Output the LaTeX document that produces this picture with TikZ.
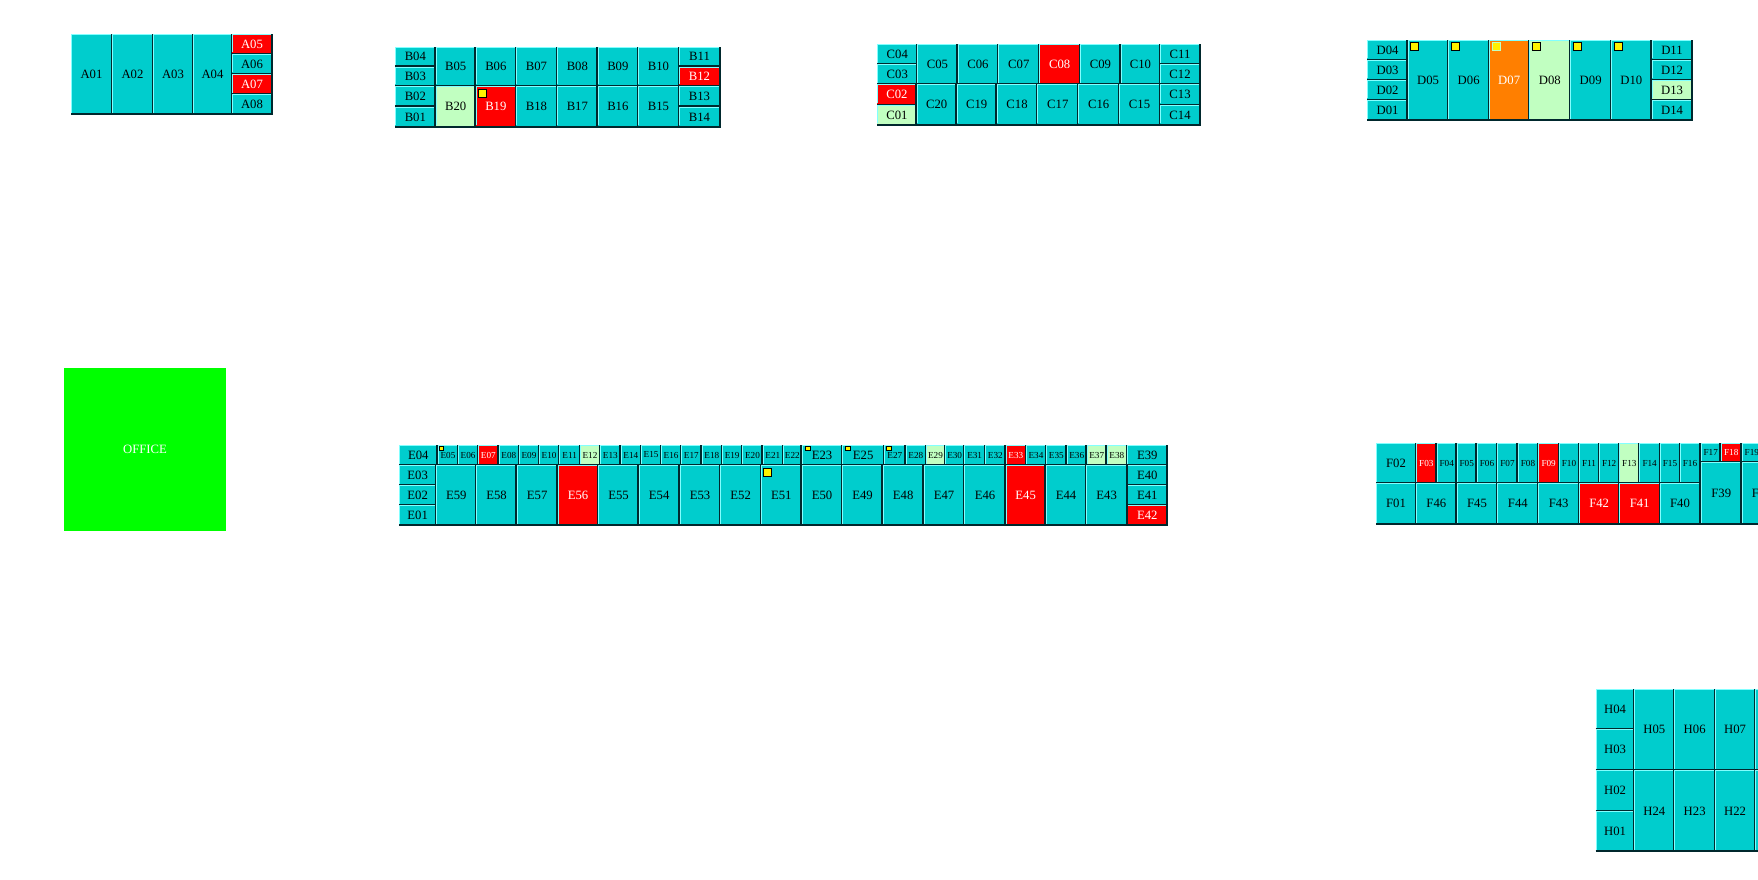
\documentclass[tikz,border=0pt]{standalone}
\usepackage{fontspec}
\setmainfont{Liberation Serif}
\definecolor{cellcyan}{RGB}{0,205,205}
\definecolor{paleg}{RGB}{193,255,193}
\definecolor{orng}{RGB}{255,127,0}
\definecolor{edgelight}{RGB}{130,255,255}
\definecolor{edgedark}{RGB}{0,40,45}
\tikzset{
  cellbox/.style={rectangle,draw=none,inner sep=0pt,outer sep=0pt,font=\fontsize{12.7}{14}\selectfont},
  cy/.style={fill=cellcyan,text=black},
  rd/.style={fill=red,text=white},
  gn/.style={fill=paleg,text=black},
  og/.style={fill=orng,text=white},
  sm/.style={font=\fontsize{9.2}{10}\selectfont},
  hi/.style={draw=edgelight,line width=1pt},
  lo/.style={draw=edgedark,line width=2pt},
  ymark/.style={rectangle,fill=yellow,draw=black,line width=0.9pt,inner sep=0pt,outer sep=0pt,minimum size=#1},
  office/.style={rectangle,fill=green,text=white,inner sep=0pt,font=\fontsize{12.7}{14}\selectfont}
}
% \cell{name}{label}{x0}{x1}{y0}{y1}{style}
\newcommand{\cell}[7]{%
  \pgfmathsetmacro{\cw}{#4-#3}\pgfmathsetmacro{\ch}{#6-#5}%
  \pgfmathsetmacro{\cx}{(#3+#4)/2}\pgfmathsetmacro{\cyy}{(#5+#6)/2}%
  \node[cellbox,#7,minimum width=\cw pt,minimum height=\ch pt] (#1) at (\cx pt,-\cyy pt) {#2};
  \draw[hi] ([xshift=.5pt,yshift=1.5pt]#1.south west) |- ([xshift=-1.5pt,yshift=-.5pt]#1.north east);
  \draw[lo] ([yshift=.3pt]#1.south west) -| ([xshift=-.3pt]#1.north east);
}
\newcommand{\ymk}[4][]{\node[ymark=#4,#1] (y#2) at (#3) {};}
\begin{document}
\begin{tikzpicture}[x=1pt,y=1pt]
\clip (0,0) rectangle (1758,-880);
\useasboundingbox (0,0) rectangle (1758,-880);
\fill[white] (0,0) rectangle (1758,-880);
% A
\cell{A01}{A01}{71}{112}{34}{114.7}{cy}
\cell{A02}{A02}{112}{153}{34}{114.7}{cy}
\cell{A03}{A03}{153}{193}{34}{114.7}{cy}
\cell{A04}{A04}{193}{232}{34}{114.7}{cy}
\cell{A05}{A05}{232}{272}{34}{54}{rd}
\cell{A06}{A06}{232}{272}{54}{74}{cy}
\cell{A07}{A07}{232}{272}{74}{94.5}{rd}
\cell{A08}{A08}{232}{272}{94.5}{114.7}{cy}
% B
\cell{B04}{B04}{395}{435.7}{46.7}{66.7}{cy}
\cell{B03}{B03}{395}{435.7}{66.7}{86}{cy}
\cell{B02}{B02}{395}{435.7}{86}{106.7}{cy}
\cell{B01}{B01}{395}{435.7}{106.7}{127}{cy}
\cell{B05}{B05}{435.7}{475.7}{46.7}{86}{cy}
\cell{B06}{B06}{475.7}{516}{46.7}{86}{cy}
\cell{B07}{B07}{516}{557}{46.7}{86}{cy}
\cell{B08}{B08}{557}{597.7}{46.7}{86}{cy}
\cell{B09}{B09}{597.7}{638}{46.7}{86}{cy}
\cell{B10}{B10}{638}{679}{46.7}{86}{cy}
\cell{B20}{B20}{435.7}{475.7}{86}{127}{gn}
\cell{B19}{B19}{475.7}{516}{86}{127}{rd}
\cell{B18}{B18}{516}{557}{86}{127}{cy}
\cell{B17}{B17}{557}{597.7}{86}{127}{cy}
\cell{B16}{B16}{597.7}{638}{86}{127}{cy}
\cell{B15}{B15}{638}{679}{86}{127}{cy}
\cell{B11}{B11}{679}{720}{46.7}{66.7}{cy}
\cell{B12}{B12}{679}{720}{66.7}{86}{rd}
\cell{B13}{B13}{679}{720}{86}{106.7}{cy}
\cell{B14}{B14}{679}{720}{106.7}{127}{cy}
\ymk{B19}{482.5pt,-93.5pt}{8pt}
% C
\cell{C04}{C04}{877.3}{917.3}{44.3}{64.3}{cy}
\cell{C03}{C03}{877.3}{917.3}{64.3}{84.3}{cy}
\cell{C02}{C02}{877.3}{916.7}{84.3}{105}{rd}
\cell{C01}{C01}{877.3}{916.7}{105}{125}{gn}
\cell{C05}{C05}{917.3}{957.7}{44.3}{84.3}{cy}
\cell{C06}{C06}{957.7}{998.3}{44.3}{84.3}{cy}
\cell{C07}{C07}{998.3}{1039.3}{44.3}{84.3}{cy}
\cell{C08}{C08}{1039.3}{1080}{44.3}{84.3}{rd}
\cell{C09}{C09}{1080}{1120.7}{44.3}{84.3}{cy}
\cell{C10}{C10}{1120.7}{1160}{44.3}{84.3}{cy}
\cell{C20}{C20}{916.7}{956.7}{84.3}{125}{cy}
\cell{C19}{C19}{956.7}{996.7}{84.3}{125}{cy}
\cell{C18}{C18}{996.7}{1037.3}{84.3}{125}{cy}
\cell{C17}{C17}{1037.3}{1078.3}{84.3}{125}{cy}
\cell{C16}{C16}{1078.3}{1119}{84.3}{125}{cy}
\cell{C15}{C15}{1119}{1160}{84.3}{125}{cy}
\cell{C11}{C11}{1160}{1200}{44.3}{64.3}{cy}
\cell{C12}{C12}{1160}{1200}{64.3}{84.3}{cy}
\cell{C13}{C13}{1160}{1200}{84.3}{105}{cy}
\cell{C14}{C14}{1160}{1200}{105}{125}{cy}
% D
\cell{D04}{D04}{1367.3}{1407.7}{40}{60}{cy}
\cell{D03}{D03}{1367.3}{1407.7}{60}{80}{cy}
\cell{D02}{D02}{1367.3}{1407.7}{80}{100}{cy}
\cell{D01}{D01}{1367.3}{1407.7}{100}{120.7}{cy}
\cell{D05}{D05}{1407.7}{1448.3}{40}{120.7}{cy}
\cell{D06}{D06}{1448.3}{1489}{40}{120.7}{cy}
\cell{D07}{D07}{1489}{1529.3}{40}{120.7}{og}
\cell{D08}{D08}{1529.3}{1570.3}{40}{120.7}{gn}
\cell{D09}{D09}{1570.3}{1611}{40}{120.7}{cy}
\cell{D10}{D10}{1611}{1651.7}{40}{120.7}{cy}
\cell{D11}{D11}{1651.7}{1692.3}{40}{60}{cy}
\cell{D12}{D12}{1651.7}{1692.3}{60}{80}{cy}
\cell{D13}{D13}{1651.7}{1692.3}{80}{100}{gn}
\cell{D14}{D14}{1651.7}{1692.3}{100}{120.7}{cy}
\ymk{D05}{1414.5pt,-46.5pt}{8pt}
\ymk{D06}{1455pt,-46.5pt}{8pt}
\ymk[draw=paleg]{D07}{1496.5pt,-46.5pt}{8pt}
\ymk{D08}{1536.5pt,-46.5pt}{8pt}
\ymk{D09}{1577.5pt,-46.5pt}{8pt}
\ymk{D10}{1618.5pt,-46.5pt}{8pt}
% Office
\node[office,minimum width=162pt,minimum height=163pt] (office) at (145pt,-449.5pt) {OFFICE};
% E
\cell{E04}{E04}{399}{437.7}{445}{465}{cy}
\cell{E03}{E03}{399}{436.3}{465}{485}{cy}
\cell{E02}{E02}{399}{436.3}{485}{505}{cy}
\cell{E01}{E01}{399}{436.3}{505}{525}{cy}
\cell{E05}{E05}{437.7}{458.3}{445}{465}{cy,sm}
\cell{E06}{E06}{458.3}{478}{445}{465}{cy,sm}
\cell{E07}{E07}{478}{498.7}{445}{465}{rd,sm}
\cell{E08}{E08}{498.7}{519}{445}{465}{cy,sm}
\cell{E09}{E09}{519}{539}{445}{465}{cy,sm}
\cell{E10}{E10}{539}{559.3}{445}{465}{cy,sm}
\cell{E11}{E11}{559.3}{580}{445}{465}{cy,sm}
\cell{E12}{E12}{580}{600}{445}{465}{gn,sm}
\cell{E13}{E13}{600}{620.7}{445}{465}{cy,sm}
\cell{E14}{E14}{620.7}{641}{445}{465}{cy,sm}
\cell{E15}{E15}{641}{661.3}{445}{465}{cy,sm}
\cell{E16}{E16}{661.3}{681}{445}{465}{cy,sm}
\cell{E17}{E17}{681}{701.7}{445}{465}{cy,sm}
\cell{E18}{E18}{701.7}{722}{445}{465}{cy,sm}
\cell{E19}{E19}{722}{742.3}{445}{465}{cy,sm}
\cell{E20}{E20}{742.3}{762.7}{445}{465}{cy,sm}
\cell{E21}{E21}{762.7}{783}{445}{465}{cy,sm}
\cell{E22}{E22}{783}{801.7}{445}{465}{cy,sm}
\cell{E23}{E23}{801.7}{842.3}{445}{465}{cy}
\cell{E25}{E25}{842.3}{884}{445}{465}{cy}
\cell{E27}{E27}{884}{905.7}{445}{465}{cy,sm}
\cell{E28}{E28}{905.7}{926}{445}{465}{cy,sm}
\cell{E29}{E29}{926}{945}{445}{465}{gn,sm}
\cell{E30}{E30}{945}{964.3}{445}{465}{cy,sm}
\cell{E31}{E31}{964.3}{985}{445}{465}{cy,sm}
\cell{E32}{E32}{985}{1005.7}{445}{465}{cy,sm}
\cell{E33}{E33}{1005.7}{1026}{445}{465}{rd,sm}
\cell{E34}{E34}{1026}{1046}{445}{465}{cy,sm}
\cell{E35}{E35}{1046}{1066.7}{445}{465}{cy,sm}
\cell{E36}{E36}{1066.7}{1086.7}{445}{465}{cy,sm}
\cell{E37}{E37}{1086.7}{1106.7}{445}{465}{gn,sm}
\cell{E38}{E38}{1106.7}{1127}{445}{465}{gn,sm}
\cell{E39}{E39}{1127}{1167.7}{445}{465}{cy}
\cell{E40}{E40}{1127}{1167.7}{465}{485}{cy}
\cell{E41}{E41}{1127}{1167.7}{485}{505}{cy}
\cell{E42}{E42}{1127}{1167.7}{505}{525}{rd}
\cell{E59}{E59}{436.3}{476.3}{465}{525}{cy}
\cell{E58}{E58}{476.3}{516.7}{465}{525}{cy}
\cell{E57}{E57}{516.7}{557.7}{465}{525}{cy}
\cell{E56}{E56}{557.7}{598.3}{465}{525}{rd}
\cell{E55}{E55}{598.3}{638.7}{465}{525}{cy}
\cell{E54}{E54}{638.7}{679.7}{465}{525}{cy}
\cell{E53}{E53}{679.7}{720.3}{465}{525}{cy}
\cell{E52}{E52}{720.3}{761}{465}{525}{cy}
\cell{E51}{E51}{761}{801.7}{465}{525}{cy}
\cell{E50}{E50}{801.7}{842.3}{465}{525}{cy}
\cell{E49}{E49}{842.3}{882.7}{465}{525}{cy}
\cell{E48}{E48}{882.7}{923.7}{465}{525}{cy}
\cell{E47}{E47}{923.7}{964.3}{465}{525}{cy}
\cell{E46}{E46}{964.3}{1005.7}{465}{525}{cy}
\cell{E45}{E45}{1005.7}{1045.7}{465}{525}{rd}
\cell{E44}{E44}{1045.7}{1086.3}{465}{525}{cy}
\cell{E43}{E43}{1086.3}{1127}{465}{525}{cy}
\ymk{E05}{441.5pt,-448.3pt}{4.5pt}
\ymk{E23}{808pt,-448.5pt}{4.5pt}
\ymk{E25}{847.8pt,-448.5pt}{4.5pt}
\ymk{E27}{888.7pt,-448.5pt}{4.5pt}
\ymk{E51}{767.5pt,-472.5pt}{8pt}
% F
\cell{F02}{F02}{1376}{1416}{443.3}{483.3}{cy}
\cell{F03}{F03}{1416}{1436.7}{443.3}{483.3}{rd,sm}
\cell{F04}{F04}{1436.7}{1456.7}{443.3}{483.3}{cy,sm}
\cell{F05}{F05}{1456.7}{1476.7}{443.3}{483.3}{cy,sm}
\cell{F06}{F06}{1476.7}{1497.3}{443.3}{483.3}{cy,sm}
\cell{F07}{F07}{1497.3}{1517.7}{443.3}{483.3}{cy,sm}
\cell{F08}{F08}{1517.7}{1538.3}{443.3}{483.3}{cy,sm}
\cell{F09}{F09}{1538.3}{1559}{443.3}{483.3}{rd,sm}
\cell{F10}{F10}{1559}{1579}{443.3}{483.3}{cy,sm}
\cell{F11}{F11}{1579}{1599}{443.3}{483.3}{cy,sm}
\cell{F12}{F12}{1599}{1619.3}{443.3}{483.3}{cy,sm}
\cell{F13}{F13}{1619.3}{1639.3}{443.3}{483.3}{gn,sm}
\cell{F14}{F14}{1639.3}{1660}{443.3}{483.3}{cy,sm}
\cell{F15}{F15}{1660}{1680}{443.3}{483.3}{cy,sm}
\cell{F16}{F16}{1680}{1700}{443.3}{483.3}{cy,sm}
\cell{F17}{F17}{1700.7}{1720.7}{443.3}{462.3}{cy,sm}
\cell{F18}{F18}{1720.7}{1741.7}{443.3}{462.3}{rd,sm}
\cell{F19}{F19}{1741.7}{1762}{443.3}{462.3}{cy,sm}
\cell{F01}{F01}{1376}{1416}{483.3}{524}{cy}
\cell{F46}{F46}{1416}{1456.7}{483.3}{524}{cy}
\cell{F45}{F45}{1456.7}{1497.3}{483.3}{524}{cy}
\cell{F44}{F44}{1497.3}{1538.3}{483.3}{524}{cy}
\cell{F43}{F43}{1538.3}{1579}{483.3}{524}{cy}
\cell{F42}{F42}{1579}{1619.3}{483.3}{524}{rd}
\cell{F41}{F41}{1619.3}{1660}{483.3}{524}{rd}
\cell{F40}{F40}{1660}{1700}{483.3}{524}{cy}
\cell{F39}{F39}{1700.7}{1741.7}{462.3}{524.7}{cy}
\cell{F38}{F38}{1741.7}{1782}{462.3}{524.7}{cy}
% H
\cell{H04}{H04}{1595.7}{1634.3}{689.3}{729.3}{cy}
\cell{H03}{H03}{1595.7}{1634.3}{729.3}{770}{cy}
\cell{H02}{H02}{1595.7}{1634.3}{770}{811}{cy}
\cell{H01}{H01}{1595.7}{1634.3}{811}{851.7}{cy}
\cell{H05}{H05}{1634.3}{1674.3}{689.3}{770}{cy}
\cell{H06}{H06}{1674.3}{1715}{689.3}{770}{cy}
\cell{H07}{H07}{1715}{1755}{689.3}{770}{cy}
\cell{H08}{}{1755}{1796}{689.3}{770}{cy}
\cell{H24}{H24}{1634.3}{1674.3}{770}{851.7}{cy}
\cell{H23}{H23}{1674.3}{1715}{770}{851.7}{cy}
\cell{H22}{H22}{1715}{1755}{770}{851.7}{cy}
\cell{H21}{}{1755}{1796}{770}{851.7}{cy}
\end{tikzpicture}
\end{document}
